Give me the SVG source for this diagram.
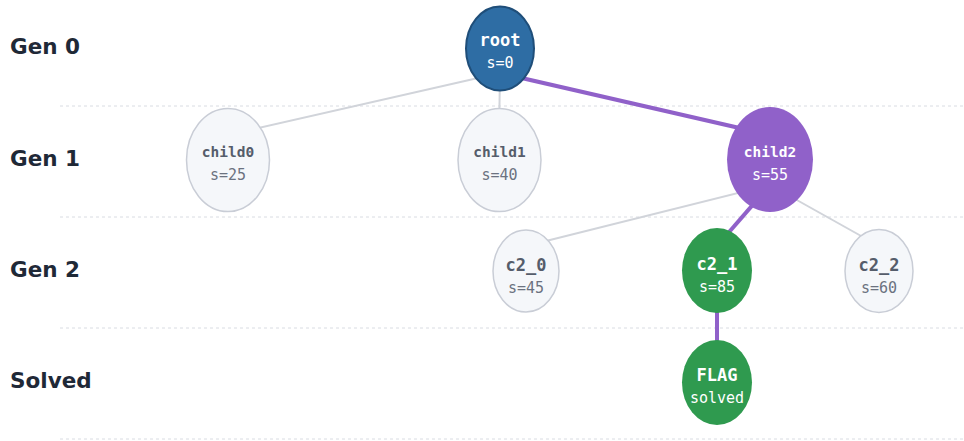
<svg xmlns="http://www.w3.org/2000/svg" width="964" height="441" viewBox="0 0 964 441">
<style>
.row{font-family:"DejaVu Sans",sans-serif;font-weight:bold;font-size:21.5px;fill:#1f2937}
.sep{stroke:#d9dce2;stroke-width:1;stroke-dasharray:3 3}
.e{stroke:#d1d4da;stroke-width:2;fill:none}
.p{stroke:#9061c9;stroke-width:4;fill:none}
.lt ellipse{fill:#f5f7fa;stroke:#c9cdd6;stroke-width:1.5}
.lt .a{fill:#555d6b}
.lt .b{fill:#6b7280}
.a{font-family:"DejaVu Sans Mono",monospace;font-weight:bold;text-anchor:middle}
.b{font-family:"DejaVu Sans Mono",monospace;font-size:15px;text-anchor:middle}
.dk .a,.dk .b{fill:#ffffff}
</style>
<rect width="964" height="441" fill="#ffffff"/>
<g id="rows">
<line class="sep" x1="60" y1="106" x2="964" y2="106"/>
<line class="sep" x1="60" y1="217" x2="964" y2="217"/>
<line class="sep" x1="60" y1="328" x2="964" y2="328"/>
<line class="sep" x1="60" y1="439" x2="964" y2="439"/>
<text class="row" x="10" y="54">Gen 0</text>
<text class="row" x="10" y="166">Gen 1</text>
<text class="row" x="10" y="277">Gen 2</text>
<text class="row" x="10" y="388">Solved</text>
</g>
<g id="connectors">
<line class="e" x1="500" y1="73" x2="228" y2="135"/>
<line class="e" x1="500" y1="73" x2="499" y2="135"/>
<line class="e" x1="770" y1="185" x2="526" y2="246"/>
<line class="e" x1="770" y1="185" x2="879" y2="246"/>
<line class="p" x1="500" y1="73" x2="770" y2="135"/>
<line class="p" x1="770" y1="185" x2="717" y2="246"/>
<line class="p" x1="717" y1="295" x2="717" y2="358"/>
</g>
<g id="root" class="dk">
<ellipse cx="500" cy="48.5" rx="34" ry="42" fill="#2e6da4" stroke="#1f4e79" stroke-width="2"/>
<text class="a" x="500" y="46" font-size="17">root</text>
<text class="b" x="500" y="68">s=0</text>
</g>
<g id="child0" class="lt">
<ellipse cx="228" cy="160" rx="41.5" ry="51.5"/>
<text class="a" x="228" y="157" font-size="14.5">child0</text>
<text class="b" x="228" y="180">s=25</text>
</g>
<g id="child1" class="lt">
<ellipse cx="499.5" cy="160" rx="41.5" ry="51.5"/>
<text class="a" x="499.5" y="157" font-size="14.5">child1</text>
<text class="b" x="499.5" y="180">s=40</text>
</g>
<g id="child2" class="dk">
<ellipse cx="770" cy="159.5" rx="43" ry="52.5" fill="#9061c9"/>
<text class="a" x="770" y="157" font-size="14.5">child2</text>
<text class="b" x="770" y="180">s=55</text>
</g>
<g id="c2_0" class="lt">
<ellipse cx="526" cy="271" rx="33" ry="41"/>
<text class="a" x="526" y="271" font-size="17">c2_0</text>
<text class="b" x="526" y="293">s=45</text>
</g>
<g id="c2_1" class="dk">
<ellipse cx="717" cy="270.5" rx="35" ry="42.5" fill="#2f9a4f"/>
<text class="a" x="717" y="270" font-size="17">c2_1</text>
<text class="b" x="717" y="292">s=85</text>
</g>
<g id="c2_2" class="lt">
<ellipse cx="879" cy="271" rx="34" ry="41.5"/>
<text class="a" x="879" y="271" font-size="17">c2_2</text>
<text class="b" x="879" y="293">s=60</text>
</g>
<g id="flag" class="dk">
<ellipse cx="717" cy="382.5" rx="35" ry="42.5" fill="#2f9a4f"/>
<text class="a" x="717" y="381" font-size="17">FLAG</text>
<text class="b" x="717" y="403">solved</text>
</g>
</svg>
